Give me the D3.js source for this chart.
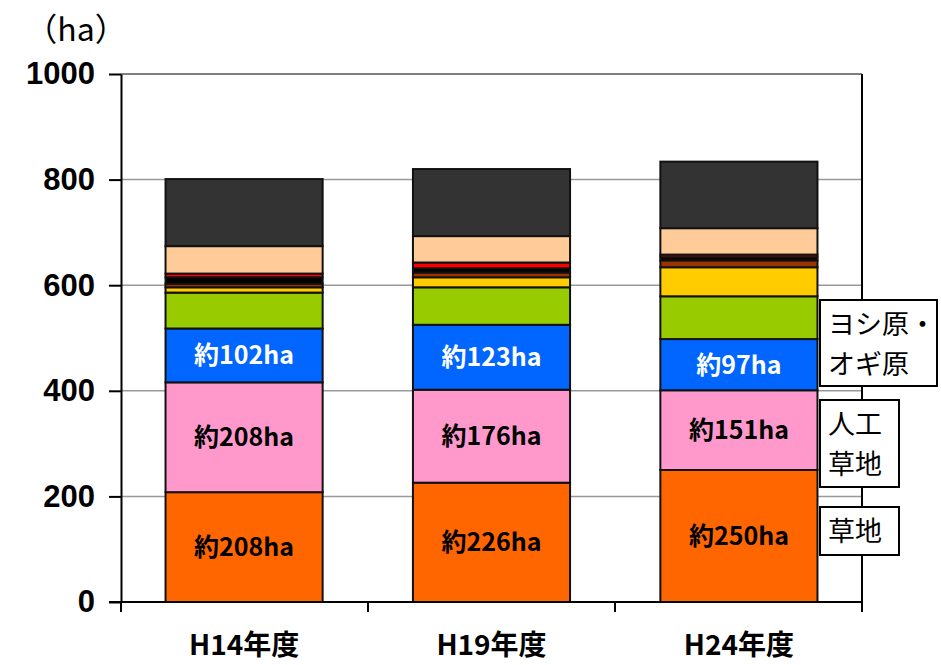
<!DOCTYPE html>
<html>
<head>
<meta charset="utf-8">
<script src="https://cdn.jsdelivr.net/npm/d3@7"></script>
<style>
  body { margin: 0; background: #fff; }
  text { font-family: "Noto Sans CJK JP", "Noto Sans", sans-serif; }
</style>
</head>
<body>
<div id="chart"></div>
<script>
// categories and layers (bottom to top)
const years = ["H14年度", "H19年度", "H24年度"];
const layers = ["草地", "人工草地", "ヨシ原・オギ原", "green", "yellow", "brown", "black", "red", "peach", "dark"];
const layerColors = ["#FF6600", "#FF99CC", "#0066FF", "#99CC00", "#FFCC00", "#993300", "#000000", "#FF0000", "#FFCC99", "#333333"];

// values in ha, one array per layer
const kusachi = [208, 226, 250];
const jinkou = [208, 176, 151];
const yoshi = [102, 123, 97];
const greenVals = [68, 71, 81];
const yellowVals = [10, 19, 55];
const brownVals = [7, 9, 13];
const blackVals = [12, 8, 6];
const redVals = [7, 11, 5];
const peachVals = [52, 50, 50];
const darkVals = [127, 127, 126];

const yTicks = [0, 200, 400, 600, 800, 1000];
const labelLayers = [0, 1, 2]; // layers with 約xxxha text
const legendBoxes = [
  { lines: ["ヨシ原・", "オギ原"], layer: 2 },
  { lines: ["人工", "草地"], layer: 1 },
  { lines: ["草地"], layer: 0 },
];

const allVals = [kusachi, jinkou, yoshi, greenVals, yellowVals, brownVals, blackVals, redVals, peachVals, darkVals];

const data = years.map((y, i) => {
  const row = { year: y };
  layers.forEach((l, j) => (row[l] = allVals[j][i]));
  return row;
});

const width = 941;
const height = 665;
const margin = { top: 74, right: 79, bottom: 63, left: 121 };

const svg = d3
  .select("#chart")
  .append("svg")
  .attr("width", width)
  .attr("height", height);

const x = d3
  .scaleBand()
  .domain(years)
  .range([margin.left, width - margin.right])
  .paddingInner(0.365)
  .paddingOuter(0.18);

const y = d3
  .scaleLinear()
  .domain([0, 1000])
  .range([height - margin.bottom, margin.top]);

// gridlines
svg
  .append("g")
  .selectAll("line")
  .data(yTicks.slice(1))
  .enter()
  .append("line")
  .attr("x1", margin.left)
  .attr("x2", width - margin.right)
  .attr("y1", (d) => y(d))
  .attr("y2", (d) => y(d))
  .attr("stroke", (d) => (d === 1000 ? "#555" : "#999"))
  .attr("stroke-width", 1.5);

// right border of plot area
svg
  .append("line")
  .attr("x1", width - margin.right)
  .attr("x2", width - margin.right)
  .attr("y1", margin.top)
  .attr("y2", height - margin.bottom)
  .attr("stroke", "#000")
  .attr("stroke-width", 2);

const stack = d3.stack().keys(layers);
const series = stack(data);

svg
  .append("g")
  .selectAll("g")
  .data(series)
  .enter()
  .append("g")
  .attr("fill", (d, i) => layerColors[i])
  .selectAll("rect")
  .data((d) => d)
  .enter()
  .append("rect")
  .attr("x", (d) => x(d.data.year))
  .attr("width", x.bandwidth())
  .attr("y", (d) => y(d[1]))
  .attr("height", (d) => y(d[0]) - y(d[1]))
  .attr("stroke", "#111")
  .attr("stroke-width", 2);

// value labels
labelLayers.forEach((li) => {
  svg
    .append("g")
    .selectAll("text")
    .data(series[li])
    .enter()
    .append("text")
    .attr("x", (d) => x(d.data.year) + x.bandwidth() / 2)
    .attr("y", (d) => y((d[0] + d[1]) / 2))
    .attr("dy", "0.36em")
    .attr("text-anchor", "middle")
    .attr("font-size", 25)
    .attr("font-weight", "bold")
    .attr("fill", li === 2 ? "#fff" : "#000")
    .text((d) => "約" + (d[1] - d[0]) + "ha");
});

// y axis
const yAxis = svg
  .append("g")
  .attr("transform", `translate(${margin.left},0)`)
  .call(
    d3.axisLeft(y)
      .tickValues(yTicks)
      .tickFormat(d3.format("d"))
      .tickSize(12)
      .tickSizeOuter(0)
      .tickPadding(14)
  );
yAxis.select(".domain").attr("stroke", "#000").attr("stroke-width", 2);
yAxis.selectAll(".tick line").attr("stroke", "#000").attr("stroke-width", 2);
yAxis
  .selectAll(".tick text")
  .attr("font-size", 31)
  .attr("font-weight", "bold")
  .attr("fill", "#000")
  .style("font-family", '"Liberation Sans", Arial, sans-serif');

// x axis with ticks at band boundaries
const xAxisY = height - margin.bottom;
svg
  .append("line")
  .attr("x1", margin.left - 12)
  .attr("x2", width - margin.right)
  .attr("y1", xAxisY)
  .attr("y2", xAxisY)
  .attr("stroke", "#000")
  .attr("stroke-width", 2);

const bounds = d3.range(years.length + 1).map((i) => margin.left + (width - margin.left - margin.right) * i / years.length);
svg
  .append("g")
  .selectAll("line")
  .data(bounds)
  .enter()
  .append("line")
  .attr("x1", (d) => d)
  .attr("x2", (d) => d)
  .attr("y1", xAxisY)
  .attr("y2", xAxisY + 10)
  .attr("stroke", "#000")
  .attr("stroke-width", 2);

svg
  .append("g")
  .selectAll("text")
  .data(years)
  .enter()
  .append("text")
  .attr("x", (d) => x(d) + x.bandwidth() / 2)
  .attr("y", 655)
  .attr("text-anchor", "middle")
  .attr("font-size", 28)
  .attr("font-weight", "bold")
  .text((d) => d);

// unit label
svg
  .append("text")
  .attr("x", 76)
  .attr("y", 41)
  .attr("text-anchor", "middle")
  .attr("font-size", 32)
  .text("（ha）");

// legend boxes on the right
const boxGeo = [
  { x: 820, y: 300, w: 117, h: 86 },
  { x: 820, y: 400, w: 79, h: 87 },
  { x: 820, y: 507, w: 79, h: 48 },
];
legendBoxes.forEach((b, i) => {
  const g = boxGeo[i];
  svg
    .append("rect")
    .attr("x", g.x)
    .attr("y", g.y)
    .attr("width", g.w)
    .attr("height", g.h)
    .attr("fill", "#fff")
    .attr("stroke", "#000")
    .attr("stroke-width", 2);
  b.lines.forEach((t, k) => {
    svg
      .append("text")
      .attr("x", g.x + 8)
      .attr("y", g.y + 34 + k * 40)
      .attr("font-size", 27)
      .text(t);
  });
});
</script>
</body>
</html>
